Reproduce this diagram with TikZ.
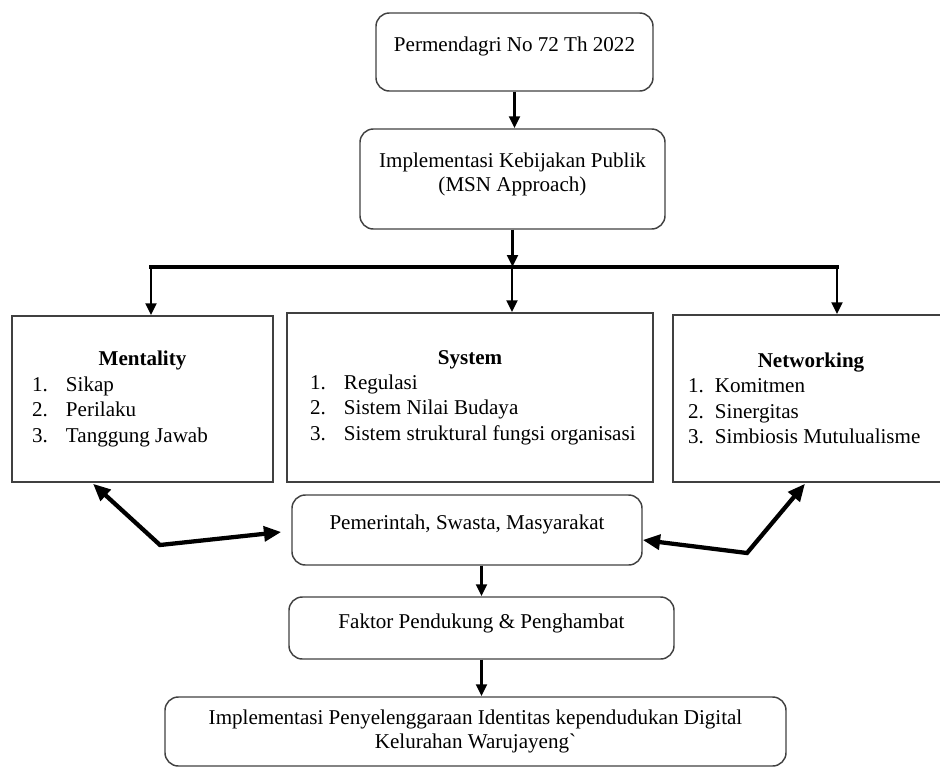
\documentclass[tikz,border=0pt]{standalone}
\usepackage{fontspec}
\setmainfont{Liberation Serif}
\usetikzlibrary{arrows.meta, calc, positioning}

\begin{document}
\begin{tikzpicture}[x=0.75pt, y=-0.75pt, >={Triangle[length=9pt,width=8pt]},
	font=\fontsize{15.8}{18}\selectfont]
	\tikzstyle{box} = [draw=black!75, line width=1.1pt, rectangle, align=center, inner sep=0pt]
	\tikzstyle{rbox} = [box, rounded corners=10pt]
	\tikzstyle{listbox} = [box, align=flush left, font=\fontsize{15.8}{19.1}\selectfont]
	\tikzstyle{flow} = [->, line width=2.2pt]
	\tikzstyle{bus} = [line width=3.2pt, line cap=rect]
	\tikzstyle{link} = [<->, line width=3.2pt, >={Triangle[length=13pt,width=11pt]}]

	\useasboundingbox (0,0) rectangle (940,768);
	\clip (0,0) rectangle (940,768);

	% top of the chain
	\node[rbox, minimum width=207.75pt, minimum height=58.5pt, text depth=11pt] (perm) at (514.5,52)
		{Permendagri No 72 Th 2022};
	\node[rbox, minimum width=228.75pt, minimum height=75pt, text depth=10pt] (kebijakan) at (512.5,179)
		{Implementasi Kebijakan Publik\\(MSN Approach)};

	% the three MSN boxes
	\node[listbox, text width=165.75pt, inner xsep=15pt, minimum height=124.5pt] (ment) at (142.5,399)
		{\makebox[\linewidth]{\textbf{Mentality}}\\
		 \makebox[25.5pt][l]{1.}Sikap\\
		 \makebox[25.5pt][l]{2.}Perilaku\\
		 \makebox[25.5pt][l]{3.}Tanggung Jawab};
	\node[listbox, text width=240pt, inner xsep=17.25pt, minimum height=126.75pt] (sys) at (470,397.5)
		{\makebox[\linewidth]{\textbf{System}}\\
		 \makebox[25.5pt][l]{1.}Regulasi\\
		 \makebox[25.5pt][l]{2.}Sistem Nilai Budaya\\
		 \mbox{\makebox[25.5pt][l]{3.}Sistem struktural fungsi organisasi}};
	\node[listbox, text width=184.5pt, inner xsep=11.25pt, minimum height=125.25pt] (net) at (811,398.5)
		{\makebox[\linewidth]{\textbf{Networking}}\\
		 \makebox[20.25pt][l]{1.}Komitmen\\
		 \makebox[20.25pt][l]{2.}Sinergitas\\
		 \mbox{\makebox[20.25pt][l]{3.}Simbiosis Mutulualisme}};

	% lower chain
	\node[rbox, minimum width=262.5pt, minimum height=52.5pt, text depth=11pt] (pem) at (467,530)
		{Pemerintah, Swasta, Masyarakat};
	\node[rbox, minimum width=288.75pt, minimum height=46.5pt, text depth=10pt] (faktor) at (481.5,628)
		{Faktor Pendukung \& Penghambat};
	\node[rbox, minimum width=465.75pt, minimum height=51.75pt] (impl) at (475.5,731.5)
		{Implementasi Penyelenggaraan Identitas kependudukan Digital\\Kelurahan Warujayeng\textasciigrave};

	\coordinate (busL) at (151,267);
	\coordinate (busM) at (512,267);
	\coordinate (busR) at (837,267);
	\coordinate (kneeL) at (160,545);
	\coordinate (kneeR) at (747,553);

	\draw[flow] (perm.south) -- (perm.south |- kebijakan.north);
	\draw[flow] (kebijakan.south) -- (kebijakan.south |- busM);
	\draw[bus] (busL) -- (busR);
	\draw[flow] (busL) -- (busL |- ment.north);
	\draw[flow] (busM) -- (busM |- sys.north);
	\draw[flow] (busR) -- (busR |- net.north);

	\draw[link] ($(pem.west)+(-10,2)$) -- (kneeL) -- ($(ment.south)+(-49.5,1)$);
	\draw[link] ($(pem.east)+(0,10)$) -- (kneeR) -- ($(net.south)+(-6,1)$);

	\draw[flow] (faktor.north |- pem.south) -- (faktor.north);
	\draw[flow] (faktor.south) -- (faktor.south |- impl.north);
\end{tikzpicture}
\end{document}
